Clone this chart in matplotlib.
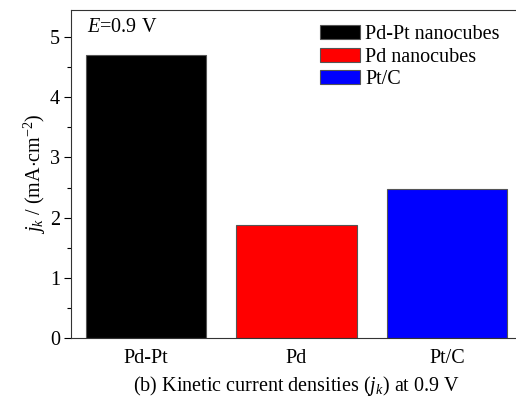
import matplotlib
matplotlib.use("Agg")
import matplotlib.pyplot as plt
from matplotlib.ticker import MultipleLocator

plt.rcParams['font.family'] = ['Liberation Serif', 'DejaVu Serif']
plt.rcParams['mathtext.fontset'] = 'custom'
plt.rcParams['mathtext.rm'] = 'Liberation Serif'
plt.rcParams['mathtext.it'] = 'Liberation Serif:italic'
plt.rcParams['font.size'] = 14.5

# data
categories = ['Pd-Pt', 'Pd', 'Pt/C']
legend_labels = ['Pd-Pt nanocubes', 'Pd nanocubes', 'Pt/C']
jk_values = [4.70, 1.87, 2.48]
bar_colors = ['#000000', '#ff0000', '#0000ff']

fig = plt.figure(figsize=(5.16, 4.01), dpi=100)
ax = fig.add_axes([0.1376, 0.157, 0.874, 0.818])

x = range(len(categories))
bars = ax.bar(x, jk_values, width=0.8, color=bar_colors,
              edgecolor='#555555', linewidth=0.8)
for b, lab in zip(bars, legend_labels):
    b.set_label(lab)

ax.set_xlim(-0.5, 2.5)
ax.set_ylim(0, 5.45)
ax.set_xticks(list(x))
ax.set_xticklabels(categories)
ax.yaxis.set_major_locator(MultipleLocator(1))
ax.yaxis.set_minor_locator(MultipleLocator(0.5))
ax.tick_params(axis='x', length=0, pad=8)
ax.tick_params(axis='y', which='major', direction='out', length=5, width=0.8, pad=3)
ax.tick_params(axis='y', which='minor', direction='out', length=3, width=0.8)
for s in ax.spines.values():
    s.set_linewidth(0.8)
    s.set_color('#333333')

ax.set_ylabel(r'$j_k$ / (mA$\cdot$cm$^{-2}$)', labelpad=1)
ax.set_xlabel(r'(b) Kinetic current densities ($j_k$) at 0.9 V', labelpad=4)

ax.text(0.035, 0.975, r'$E$=0.9 V', transform=ax.transAxes, ha='left', va='top')

ax.legend(loc='upper right', bbox_to_anchor=(0.978, 0.99), frameon=False,
          handlelength=2.0, handleheight=0.7, handletextpad=0.25,
          labelspacing=0.15, borderaxespad=0.2)

fig.savefig('out.png', dpi=100)
